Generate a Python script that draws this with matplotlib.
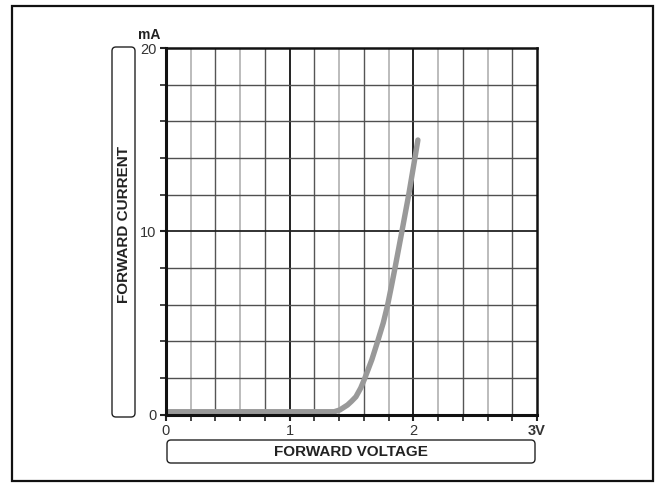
import matplotlib
matplotlib.use("Agg")
import matplotlib.pyplot as plt
from matplotlib.patches import FancyBboxPatch, Rectangle
from matplotlib import font_manager
import numpy as np

# Data
voltage = [0.0, 0.7, 1.36, 1.406, 1.468, 1.50, 1.536, 1.575, 1.609, 1.665, 1.712, 1.757, 1.793, 1.823, 1.852, 1.908, 1.963, 2.013, 2.037]
current = [0.15, 0.15, 0.15, 0.25, 0.52, 0.72, 0.97, 1.45, 2.0, 3.0, 4.0, 5.0, 6.0, 7.0, 8.0, 10.0, 12.0, 14.0, 14.98]
x_major = [0, 1, 2, 3]
x_major_labels = ["0", "1", "2", "3V"]
y_major = [0, 10, 20]
y_major_labels = ["0", "10", "20"]
x_label = "FORWARD VOLTAGE"
y_label = "FORWARD CURRENT"
y_unit = "mA"

names = {f.name for f in font_manager.fontManager.ttflist}
narrow = ['Liberation Sans Narrow'] if 'Liberation Sans Narrow' in names else ['Liberation Sans']
narrow = narrow + ['DejaVu Sans']
bold = ['Liberation Sans', 'DejaVu Sans']

fig = plt.figure(figsize=(6.6, 4.83), dpi=100)
ax = fig.add_axes([0.2515, 0.1418, 0.5621, 0.7588])
ax.set_xlim(0, 3)
ax.set_ylim(0, 20)

# grid
xminor = np.arange(0.2, 3.0, 0.2)
for i, xv in enumerate(xminor):
    k = i + 1
    if k % 5 == 0:
        c, lw = '#111111', 1.3
    elif k in (1, 3, 7, 9, 11, 13):
        c, lw = '#aaaaaa', 1.1
    else:
        c, lw = '#555555', 1.0
    ax.axvline(xv, color=c, lw=lw, zorder=1)
yminor = np.arange(2, 20, 2)
for j, yv in enumerate(yminor):
    k = j + 1
    if k % 5 == 0:
        c, lw = '#222222', 1.3
    else:
        c, lw = '#505050', 1.0
    ax.axhline(yv, color=c, lw=lw, zorder=1)

ax.plot(voltage, current, color='#999999', lw=3.9, solid_capstyle='round',
        solid_joinstyle='round', zorder=3)

for s in ax.spines.values():
    s.set_linewidth(1.8)
    s.set_color('#111111')
    s.set_zorder(4)
ax.spines['left'].set_linewidth(2.2)
ax.spines['bottom'].set_linewidth(2.2)

ax.set_xticks(x_major)
ax.set_xticklabels(x_major_labels)
ax.set_yticks(y_major)
ax.set_yticklabels(y_major_labels)
ax.set_xticks(np.arange(0, 3.01, 0.2), minor=True)
ax.set_yticks(np.arange(0, 20.1, 2), minor=True)
ax.tick_params(which='both', direction='out', length=4, width=1.2, color='#222222')
ax.tick_params(which='major', width=1.5, labelsize=10.5, labelcolor='#333333', pad=3)
for lab in ax.get_xticklabels() + ax.get_yticklabels():
    lab.set_family(narrow)
ax.get_xticklabels()[-1].set_fontweight('bold')

fig.text(149 / 660, 1 - 35 / 483, y_unit, ha='center', va='center', fontsize=10,
         fontweight='bold', family=narrow, color='#222222')

# label boxes
box1 = FancyBboxPatch((112 / 660, 1 - 417 / 483), 23 / 660, 370 / 483,
                      boxstyle='round,pad=0,rounding_size=0.006', transform=fig.transFigure,
                      fill=False, ec='#222222', lw=1.0, mutation_aspect=660 / 483)
fig.patches.append(box1)
fig.text(123.5 / 660, 1 - 224 / 483, y_label, rotation=90, ha='center', va='center',
         fontsize=11, fontweight='bold', family=bold, color='#222222')

box2 = FancyBboxPatch((167 / 660, 1 - 463 / 483), 368 / 660, 23 / 483,
                      boxstyle='round,pad=0,rounding_size=0.006', transform=fig.transFigure,
                      fill=False, ec='#222222', lw=1.0, mutation_aspect=660 / 483)
fig.patches.append(box2)
fig.text(351 / 660, 1 - 452 / 483, x_label, ha='center', va='center',
         fontsize=11, fontweight='bold', family=bold, color='#222222')

# outer border
border = Rectangle((12 / 660, 1 - 481 / 483), 641 / 660, 475 / 483, transform=fig.transFigure,
                   fill=False, ec='#111111', lw=1.6)
fig.patches.append(border)

fig.savefig('out.png', dpi=100)
